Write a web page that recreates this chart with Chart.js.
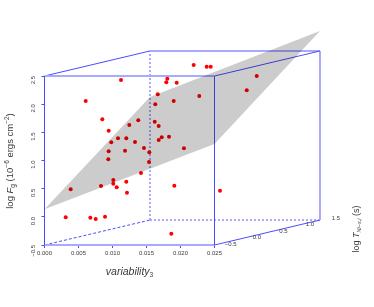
<!DOCTYPE html>
<html lang="en">
<head>
    <meta charset="UTF-8">
    <title>log Fg against variability and log T</title>
    <style>
        body { margin: 0; background: #fff; }
        canvas { display: block; }
    </style>
</head>
<body>
    <canvas id="chart" width="374" height="307"></canvas>

    <script src="https://cdn.jsdelivr.net/npm/chart.js"></script>
    <script>
        // projected positions (x = variability, y = log Fg)
        const pointX = [0.01125, 0.00606, 0.0085, 0.00944, 0.01247, 0.01379, 0.01081, 0.01203, 0.00982, 0.01331,
            0.01463, 0.01184, 0.00944, 0.01541, 0.00938, 0.01806, 0.01791, 0.01944, 0.01665, 0.01629,
            0.019, 0.01621, 0.01679, 0.01724, 0.01679, 0.01831, 0.02051, 0.02194, 0.02385, 0.02444,
            0.02276, 0.03121, 0.02974, 0.00385, 0.00312, 0.00674, 0.00753, 0.0089, 0.00831, 0.01012,
            0.01012, 0.01062, 0.01203, 0.01213, 0.01419, 0.01537, 0.01909, 0.01865, 0.02581];
        const pointY = [2.429, 2.055, 1.734, 1.528, 1.63, 1.713, 1.394, 1.394, 1.323, 1.328,
            1.221, 1.174, 1.163, 1.146, 1.021, 2.452, 2.388, 2.381, 2.175, 1.997,
            2.056, 1.688, 1.612, 1.412, 1.364, 1.422, 1.217, 2.695, 2.665, 2.665,
            2.145, 2.5, 2.246, 0.489, -0.008, -0.016, -0.039, 0.002, 0.548, 0.653,
            0.588, 0.525, 0.623, 0.428, 0.778, 0.973, 0.552, -0.3, 0.464];

        const planeX = [0, 0.01551, 0.04051, 0.025, 0];
        const planeY = [0.134, 2.128, 3.3, 1.292, 0.134];

        // box edges
        const leftX = [0, 0];
        const leftY = [-0.5, 2.5];
        const rightX = [0.025, 0.025];
        const rightY = [-0.5, 2.5];
        const bottomX = [0, 0.025];
        const bottomY = [-0.5, -0.5];
        const topX = [0, 0.025];
        const topY = [2.5, 2.5];
        const topLeftX = [0, 0.01551];
        const topLeftY = [2.5, 2.944];
        const topRightX = [0.025, 0.04051];
        const topRightY = [2.5, 2.944];
        const backTopX = [0.01551, 0.04051];
        const backTopY = [2.944, 2.944];
        const backRightX = [0.04051, 0.04051];
        const backRightY = [2.944, -0.057];
        const depthX = [0.025, 0.04051];
        const depthY = [-0.5, -0.057];
        const hiddenDepthX = [0, 0.01551];
        const hiddenDepthY = [-0.5, -0.057];
        const hiddenBackX = [0.01551, 0.04051];
        const hiddenBackY = [-0.057, -0.057];
        const hiddenVertX = [0.01551, 0.01551];
        const hiddenVertY = [-0.057, 2.944];

        const xTicks = [0, 0.005, 0.01, 0.015, 0.02, 0.025];
        const yTicks = [-0.5, 0, 0.5, 1, 1.5, 2, 2.5];

        const depthLabels = ['\u22120.5', '0.0', '0.5', '1.0', '1.5'];
        const depthLabelX = [0.02739, 0.03124, 0.03512, 0.03904, 0.04287];
        const depthLabelY = [-0.49, -0.36, -0.25, -0.14, -0.03];

        const toPoints = (xs, ys) => xs.map((x, i) => ({ x: x, y: ys[i] }));
        const BLUE = '#4a4aff';
        const PALE = '#a9a9ff';

        function line(xs, ys, color, width, dash) {
            return {
                type: 'line',
                data: toPoints(xs, ys),
                borderColor: color,
                borderWidth: width,
                borderDash: dash || [],
                pointRadius: 0,
                fill: false,
                tension: 0,
                clip: false,
                order: 2
            };
        }

        // draws a run of text pieces with their own font and baseline shift
        function richText(ctx, cx, cy, angle, parts) {
            ctx.save();
            ctx.translate(cx, cy);
            ctx.rotate(angle);
            ctx.fillStyle = '#3a3a3a';
            ctx.textBaseline = 'alphabetic';
            ctx.textAlign = 'left';
            let total = 0;
            parts.forEach(p => { ctx.font = p.font; total += ctx.measureText(p.text).width; });
            let x = -total / 2;
            parts.forEach(p => {
                ctx.font = p.font;
                ctx.fillText(p.text, x, p.shift || 0);
                x += ctx.measureText(p.text).width;
            });
            ctx.restore();
        }

        const FAM = '"Liberation Sans", Arial, sans-serif';
        const labelsPlugin = {
            id: 'labels',
            afterDraw(chart) {
                const ctx = chart.ctx;
                const sx = chart.scales.x, sy = chart.scales.y;

                ctx.save();
                ctx.fillStyle = '#3a3a3a';
                ctx.font = '6px ' + FAM;
                ctx.textAlign = 'center';
                ctx.textBaseline = 'middle';
                depthLabels.forEach((t, i) => {
                    ctx.fillText(t, sx.getPixelForValue(depthLabelX[i]), sy.getPixelForValue(depthLabelY[i]));
                });
                ctx.restore();

                richText(ctx, 129.5, 275, 0, [
                    { text: 'variability', font: 'italic 10.5px ' + FAM },
                    { text: '3', font: '6.5px ' + FAM, shift: 2 }
                ]);
                richText(ctx, 12.5, 161, -Math.PI / 2, [
                    { text: 'log ', font: '9.5px ' + FAM },
                    { text: 'F', font: 'italic 9.5px ' + FAM },
                    { text: 'g', font: '6.5px ' + FAM, shift: 2 },
                    { text: ' (10', font: '9.5px ' + FAM },
                    { text: '\u22126', font: '6.5px ' + FAM, shift: -4 },
                    { text: ' ergs cm', font: '9.5px ' + FAM },
                    { text: '\u22122', font: '6.5px ' + FAM, shift: -4 },
                    { text: ')', font: '9.5px ' + FAM }
                ]);
                richText(ctx, 359, 229, -Math.PI / 2, [
                    { text: 'log ', font: '9px ' + FAM },
                    { text: 'T', font: 'italic 9px ' + FAM },
                    { text: 'Ni\u2212s,i', font: 'italic 5.5px ' + FAM, shift: 2 },
                    { text: ' (s)', font: '9px ' + FAM }
                ]);
            }
        };

        new Chart(document.getElementById('chart').getContext('2d'), {
            type: 'scatter',
            plugins: [labelsPlugin],
            data: {
                datasets: [
                    // translucent plane goes on top, so points and lines behind it darken
                    {
                        type: 'line',
                        data: toPoints(planeX, planeY),
                        borderWidth: 0,
                        borderColor: 'rgba(0,0,0,0)',
                        backgroundColor: 'rgba(0,0,0,0.2)',
                        pointRadius: 0,
                        tension: 0,
                        fill: 'shape',
                        order: 0
                    },
                    {
                        type: 'scatter',
                        data: toPoints(pointX, pointY),
                        backgroundColor: '#ff0000',
                        borderWidth: 0,
                        pointRadius: 2,
                        clip: false,
                        order: 1
                    },
                    line(leftX, leftY, BLUE, 1),
                    line(rightX, rightY, BLUE, 1),
                    line(bottomX, bottomY, PALE, 2),
                    line(topX, topY, PALE, 2),
                    line(topLeftX, topLeftY, BLUE, 1),
                    line(topRightX, topRightY, BLUE, 1),
                    line(backTopX, backTopY, PALE, 2),
                    line(backRightX, backRightY, PALE, 2),
                    line(depthX, depthY, BLUE, 1),
                    line(hiddenDepthX, hiddenDepthY, BLUE, 1, [3, 2]),
                    line(hiddenBackX, hiddenBackY, PALE, 2, [2, 2]),
                    line(hiddenVertX, hiddenVertY, PALE, 2, [2, 2])
                ]
            },
            options: {
                responsive: false,
                animation: false,
                layout: { padding: { top: 19.67, right: 23.5, left: 0, bottom: 0 } },
                plugins: { legend: { display: false }, tooltip: { enabled: false } },
                scales: {
                    x: {
                        type: 'linear',
                        min: 0,
                        max: 0.045,
                        afterBuildTicks: s => { s.ticks = xTicks.map(v => ({ value: v })); },
                        afterFit: s => { s.height = 62; },
                        border: { display: false },
                        grid: { drawOnChartArea: false, tickColor: BLUE, tickLength: 3 },
                        ticks: {
                            autoSkip: false,
                            maxRotation: 0,
                            padding: 2,
                            color: '#3a3a3a',
                            font: { family: FAM, size: 6 },
                            callback: v => v.toFixed(3)
                        }
                    },
                    y: {
                        type: 'linear',
                        min: -0.5,
                        max: 3.5,
                        afterBuildTicks: s => { s.ticks = yTicks.map(v => ({ value: v })); },
                        afterFit: s => { s.width = 44.5; },
                        border: { display: false },
                        grid: { drawOnChartArea: false, tickColor: BLUE, tickLength: 3 },
                        ticks: {
                            autoSkip: false,
                            minRotation: 90,
                            maxRotation: 90,
                            padding: 8,
                            color: '#3a3a3a',
                            font: { family: FAM, size: 6 },
                            callback: v => v.toFixed(1).replace('-', '\u2212')
                        }
                    }
                }
            }
        });
    </script>
</body>
</html>
